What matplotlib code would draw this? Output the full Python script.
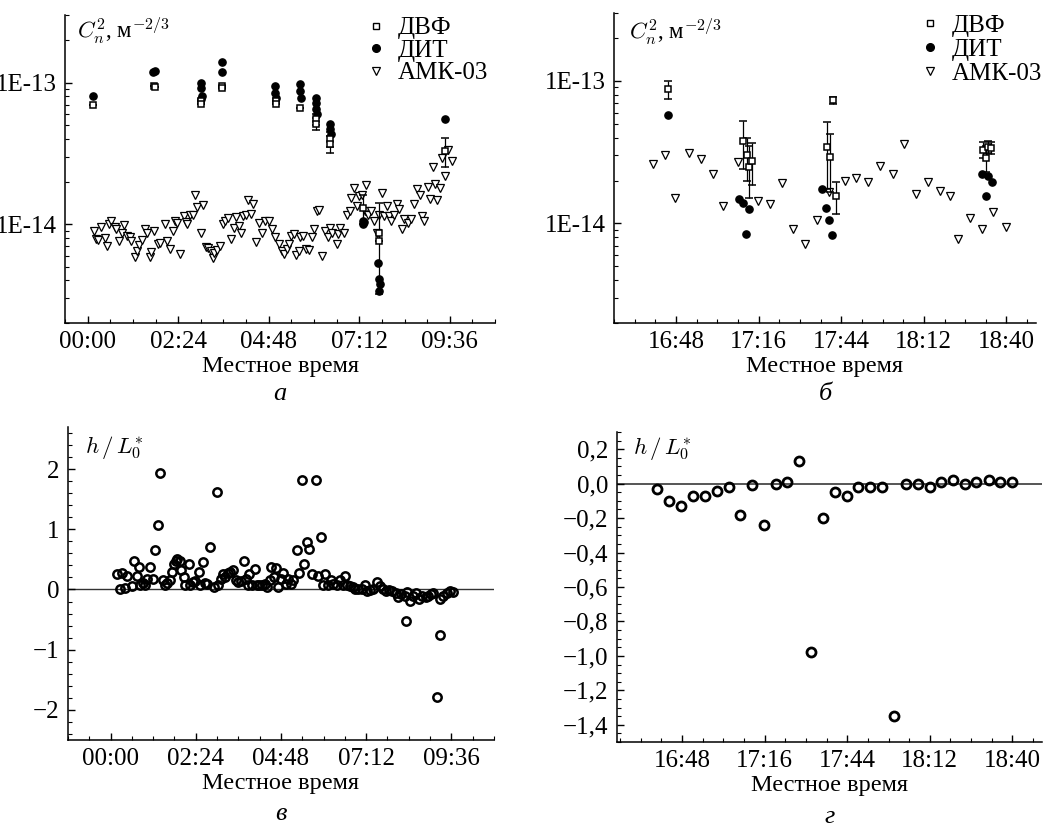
import numpy as np
import matplotlib
matplotlib.use("Agg")
from matplotlib import pyplot as plt
from matplotlib.lines import Line2D
from matplotlib.ticker import MultipleLocator, FuncFormatter, LogLocator, NullFormatter

plt.rcParams['font.family'] = 'serif'
plt.rcParams['font.serif'] = ['Liberation Serif', 'DejaVu Serif']
plt.rcParams['mathtext.fontset'] = 'cm'
plt.rcParams['font.size'] = 17.5
plt.rcParams['xtick.labelsize'] = 18
plt.rcParams['ytick.labelsize'] = 18

# ---------- panel a: night, time in hours ----------
amk_a_h = [0.16, 0.23, 0.27, 0.36, 0.45, 0.50, 0.57, 0.63, 0.72, 0.76,
           0.83, 0.90, 0.97, 1.03, 1.12, 1.16, 1.25, 1.31, 1.37, 1.43,
           1.52, 1.56, 1.65, 1.69, 1.76, 1.87, 1.91, 2.05, 2.11, 2.18,
           2.25, 2.31, 2.36, 2.45, 2.54, 2.61, 2.64, 2.71, 2.78, 2.85,
           2.91, 3.00, 3.05, 3.14, 3.20, 3.26, 3.32, 3.35, 3.42, 3.51,
           3.58, 3.64, 3.73, 3.79, 3.87, 3.94, 4.00, 4.06, 4.13, 4.20,
           4.26, 4.33, 4.38, 4.47, 4.53, 4.62, 4.71, 4.80, 4.88, 4.97,
           5.06, 5.15, 5.21, 5.28, 5.33, 5.39, 5.46, 5.53, 5.59, 5.64,
           5.71, 5.80, 5.86, 5.95, 5.99, 6.08, 6.13, 6.21, 6.30, 6.37,
           6.42, 6.48, 6.60, 6.63, 6.70, 6.79, 6.88, 6.95, 6.99, 7.06,
           7.15, 7.19, 7.28, 7.34, 7.39, 7.43, 7.50, 7.59, 7.66, 7.72,
           7.79, 7.85, 7.93, 7.99, 8.05, 8.12, 8.19, 8.25, 8.34, 8.39,
           8.48, 8.56, 8.65, 8.74, 8.81, 8.87, 8.92, 9.01, 9.08, 9.14,
           9.20, 9.27, 9.34, 9.39, 9.47, 9.55, 9.65]
amk_a_cn2 = np.array([0.90, 0.78, 0.77, 0.95, 0.80, 0.70, 1.00, 1.06, 0.95, 0.92,
                      0.76, 0.87, 0.98, 0.83, 0.81, 0.76, 0.59, 0.65, 0.71, 0.77,
                      0.92, 0.87, 0.59, 0.64, 0.90, 0.72, 0.74, 1.00, 0.76, 0.67,
                      0.90, 1.06, 1.02, 0.62, 1.14, 1.04, 1.00, 1.16, 1.16, 1.60,
                      1.32, 0.87, 1.36, 0.69, 0.68, 0.65, 0.58, 0.63, 0.66, 0.70,
                      1.00, 1.05, 1.10, 0.78, 0.94, 1.12, 0.97, 0.87, 1.14, 1.17,
                      1.47, 1.18, 1.38, 0.75, 1.02, 0.87, 1.06, 1.06, 0.92, 0.81,
                      0.72, 0.65, 0.62, 0.67, 0.72, 0.82, 0.85, 0.61, 0.65, 0.81,
                      0.82, 0.67, 0.66, 0.81, 0.92, 1.24, 1.25, 0.60, 0.89, 0.81,
                      0.94, 0.87, 0.72, 0.85, 0.94, 0.87, 1.17, 1.24, 1.54, 1.79,
                      1.34, 1.58, 1.62, 1.24, 1.89, 1.17, 1.24, 1.06, 0.87, 1.16,
                      1.67, 1.14, 1.34, 1.14, 1.06, 1.17, 1.39, 1.27, 0.92, 1.08,
                      1.02, 1.08, 1.38, 1.76, 1.62, 1.14, 1.05, 1.83, 1.50, 2.54,
                      1.91, 1.47, 1.81, 2.94, 2.19, 3.35, 2.80]) * 1e-14

dvf_a_h = [0.14, 1.76, 1.78, 3.00, 3.01, 3.56, 3.57, 4.98, 4.99, 5.64,
           6.04, 6.05, 6.41, 6.42, 7.31, 7.72, 7.73, 9.47]
dvf_a_cn2 = np.array([7.0, 9.5, 9.3, 7.45, 7.1, 9.5, 9.2, 7.45, 7.1, 6.65,
                      5.5, 5.1, 4.0, 3.7, 1.3, 0.86, 0.76, 3.3]) * 1e-14
dvf_a_err = np.array([0, 0, 0, 0, 0, 0, 0, 0, 0, 0,
                      0.5, 0.5, 0.5, 0.5, 0.3, 0.54, 0, 0.75]) * 1e-14

dit_a_h = [0.13, 1.74, 1.78, 3.00, 3.01, 3.03, 3.00, 3.56, 3.56, 4.97,
           4.97, 4.98, 5.64, 5.64, 5.65, 6.04, 6.04, 6.06, 6.07, 6.41,
           6.43, 6.45, 7.30, 7.31, 7.33, 7.70, 7.72, 7.74, 7.72, 9.47]
dit_a_cn2 = np.array([8.0, 12.0, 12.1, 10.0, 9.2, 8.1, 7.7, 14.1, 12.0, 9.5,
                      8.5, 7.8, 9.8, 8.8, 7.8, 7.8, 7.2, 6.5, 6.0, 5.1,
                      4.7, 4.35, 1.0, 1.05, 1.03, 0.53, 0.407, 0.375, 0.335, 5.55]) * 1e-14

# ---------- panel б: evening, minutes since midnight ----------
amk_b_t = [1000.3, 1004.2, 1007.7, 1012.4, 1016.4, 1020.4, 1023.8, 1028.9, 1035.7, 1039.7,
           1043.8, 1047.7, 1051.8, 1055.9, 1059.9, 1065.2, 1069.1, 1073.1, 1077.1, 1081.4,
           1085.3, 1089.4, 1093.4, 1097.6, 1101.0, 1103.6, 1107.6, 1111.6, 1115.6, 1119.8]
amk_b_cn2 = np.array([2.61, 3.03, 1.52, 3.14, 2.85, 2.22, 1.32, 2.71, 1.43, 1.37,
                      1.92, 0.91, 0.72, 1.06, 1.65, 2.00, 2.07, 1.96, 2.54, 2.22,
                      3.60, 1.62, 1.94, 1.69, 1.56, 0.78, 1.10, 0.91, 1.21, 0.95]) * 1e-14

dvf_b_t = [1005.4, 1030.6, 1032.2, 1032.6, 1033.8, 1059.2, 1060.1, 1061.2, 1062.3,
           1112.0, 1112.9, 1113.9, 1114.8]
dvf_b_cn2 = np.array([8.75, 3.8, 3.0, 2.5, 2.75, 3.45, 2.95, 7.3, 1.56,
                      3.3, 2.9, 3.45, 3.4]) * 1e-14
dvf_b_err = np.array([1.3, 1.4, 1.0, 1.0, 0.9, 1.7, 1.3, 0.45, 0.4,
                      0.4, 0.6, 0.35, 0.35]) * 1e-14

dit_b_t = [1005.4, 1029.4, 1030.6, 1032.9, 1031.9, 1057.6, 1058.7, 1059.9, 1060.9,
           1111.6, 1113.9, 1115.0, 1112.9]
dit_b_cn2 = np.array([5.75, 1.48, 1.40, 1.27, 0.85, 1.74, 1.28, 1.06, 0.83,
                      2.22, 2.16, 1.96, 1.56]) * 1e-14

# ---------- panel в: h/L0*, night ----------
hl_c_h = [0.17, 0.26, 0.33, 0.42, 0.47, 0.61, 0.66, 0.75, 0.80, 0.84,
          0.92, 0.98, 1.03, 1.12, 1.20, 1.26, 1.33, 1.40, 1.48, 1.52,
          1.59, 1.67, 1.73, 1.78, 1.83, 1.87, 1.95, 1.98, 2.06, 2.11,
          2.20, 2.25, 2.32, 2.39, 2.48, 2.53, 2.60, 2.67, 2.73, 2.81,
          2.90, 2.99, 3.04, 3.11, 3.16, 3.23, 3.30, 3.37, 3.46, 3.54,
          3.60, 3.67, 3.75, 3.82, 3.86, 3.91, 3.98, 4.07, 4.12, 4.19,
          4.26, 4.35, 4.40, 4.48, 4.51, 4.59, 4.66, 4.73, 4.79, 4.87,
          4.94, 5.01, 5.07, 5.15, 5.24, 5.32, 5.38, 5.45, 5.52, 5.60,
          5.66, 5.79, 5.85, 5.92, 5.97, 6.04, 6.13, 6.20, 6.27, 6.37,
          6.46, 6.54, 6.60, 6.67, 6.74, 6.82, 6.88, 6.97, 7.07, 7.16,
          7.23, 7.30, 7.40, 7.51, 7.58, 7.66, 7.75, 7.85, 7.94, 8.03,
          8.10, 8.19, 8.29, 8.35, 8.44, 8.52, 8.61, 8.69, 8.78, 8.88,
          8.94, 9.04, 9.08, 9.27, 9.36, 9.48, 9.55, 9.64, 8.31, 9.27, 9.20]
hl_c = [0.25, 0.01, 0.27, 0.03, 0.22, 0.06, 0.47, 0.22, 0.38, 0.08,
        0.11, 0.08, 0.18, 0.37, 0.18, 0.65, 1.07, 1.93, 0.15, 0.07,
        0.11, 0.16, 0.29, 0.42, 0.48, 0.51, 0.48, 0.32, 0.21, 0.07,
        0.43, 0.08, 0.12, 0.14, 0.29, 0.07, 0.46, 0.11, 0.09, 0.71,
        0.04, 1.62, 0.07, 0.18, 0.25, 0.21, 0.27, 0.29, 0.32, 0.15,
        0.12, 0.14, 0.48, 0.18, 0.07, 0.26, 0.07, 0.34, 0.08, 0.07,
        0.08, 0.09, 0.04, 0.15, 0.37, 0.21, 0.36, 0.04, 0.18, 0.28,
        0.09, 0.18, 0.09, 0.15, 0.65, 0.27, 1.82, 0.43, 0.79, 0.68,
        0.26, 1.82, 0.23, 0.88, 0.08, 0.26, 0.08, 0.15, 0.09, 0.07,
        0.15, 0.07, 0.22, 0.08, 0.05, 0.04, 0.01, 0.01, 0.01, 0.07,
        -0.02, -0.01, 0.01, 0.12, 0.05, 0.01, -0.02, -0.01, -0.03, -0.06,
        -0.13, -0.07, -0.10, -0.04, -0.19, -0.10, -0.06, -0.16, -0.10, -0.13,
        -0.10, -0.07, -0.06, -0.16, -0.10, -0.06, -0.02, -0.04, -0.52, -0.76, -1.78]

# ---------- panel г: h/L0*, evening ----------
hl_d_t = [999.6, 1003.7, 1007.8, 1011.8, 1015.8, 1019.8, 1023.8, 1027.7, 1031.9, 1035.9,
          1039.9, 1043.7, 1047.8, 1051.8, 1055.9, 1059.9, 1063.9, 1067.8, 1071.8, 1075.8,
          1079.9, 1083.9, 1087.9, 1091.9, 1095.9, 1099.9, 1103.8, 1107.8, 1112.0, 1115.9, 1119.9]
hl_d = [-0.03, -0.10, -0.13, -0.07, -0.07, -0.04, -0.02, -0.18, -0.01, -0.24,
        0.00, 0.01, 0.13, -0.98, -0.20, -0.05, -0.07, -0.02, -0.02, -0.02,
        -1.35, 0.00, 0.00, -0.02, 0.01, 0.02, 0.00, 0.01, 0.02, 0.01, 0.01]


def fmt_hours(v, pos):
    m = int(round(v * 60))
    return f"{m // 60:02d}:{m % 60:02d}"


def fmt_minutes(v, pos):
    m = int(round(v))
    return f"{m // 60:02d}:{m % 60:02d}"


def fmt_comma(v, pos):
    return f"{v:.1f}".replace('.', ',').replace('-', '\u2212')


def fmt_int(v, pos):
    return f"{int(round(v))}".replace('-', '\u2212')


def style_axes(ax):
    for s in ['top', 'right']:
        ax.spines[s].set_visible(False)
    for s in ['left', 'bottom']:
        ax.spines[s].set_linewidth(1.1)
    ax.tick_params(which='both', direction='in', top=False, right=False, pad=6)
    ax.tick_params(which='major', length=5, width=1)
    ax.tick_params(which='minor', length=3, width=0.8)


def log_axis(ax):
    ax.set_yscale('log')
    ax.set_ylim(2e-15, 3e-13)
    ax.yaxis.set_major_locator(LogLocator(base=10))
    ax.yaxis.set_minor_locator(LogLocator(base=10, subs=range(2, 10)))
    ax.yaxis.set_major_formatter(FuncFormatter(lambda v, p: f"1E{int(round(np.log10(v)))}"))
    ax.yaxis.set_minor_formatter(NullFormatter())


def cn2_panel(ax, amk_t, amk_v, dvf_t, dvf_v, dvf_e, dit_t, dit_v, ms_tri):
    ax.plot(amk_t, amk_v, 'v', ls='none', mfc='white', mec='black', ms=ms_tri, mew=0.9, zorder=2)
    ax.plot(dit_t, dit_v, 'o', ls='none', color='black', ms=5.2, zorder=3)
    ax.errorbar(dvf_t, dvf_v, yerr=dvf_e, fmt='s', mfc='white', mec='black', ms=4.3, mew=1.1,
                ecolor='black', elinewidth=0.9, capsize=3, capthick=0.9, zorder=4)


proxies = [Line2D([], [], marker='s', ls='none', mfc='white', mec='black', ms=5, mew=1),
           Line2D([], [], marker='o', ls='none', color='black', ms=5.5),
           Line2D([], [], marker='v', ls='none', mfc='white', mec='black', ms=6, mew=0.9)]
names = ['ДВФ', 'ДИТ', 'АМК-03']

fig = plt.figure(figsize=(10.49, 8.23), dpi=100)

# а
ax = fig.add_axes([0.062, 0.6075, 0.410, 0.374])
style_axes(ax)
cn2_panel(ax, amk_a_h, amk_a_cn2, dvf_a_h, dvf_a_cn2, dvf_a_err, dit_a_h, dit_a_cn2, 5.8)
log_axis(ax)
ax.set_xlim(-0.6, 10.8)
ax.xaxis.set_major_locator(MultipleLocator(2.4))
ax.xaxis.set_minor_locator(MultipleLocator(0.6))
ax.xaxis.set_major_formatter(FuncFormatter(fmt_hours))
ax.set_xlabel('Местное время', labelpad=2)
ax.text(0.028, 0.951, r"$C_n^2$, м$^{-2/3}$", transform=ax.transAxes, va='center', fontsize=16.5)
ax.legend(proxies, names, loc='upper left', bbox_to_anchor=(0.665, 1.035), frameon=False,
          fontsize=18, borderpad=0, handletextpad=0.35, labelspacing=0.0, handlelength=1.0)
ax.text(0.5, -0.23, 'а', transform=ax.transAxes, ha='center', va='center', style='italic', fontsize=19)

# б
ax = fig.add_axes([0.5853, 0.6075, 0.4023, 0.3767])
style_axes(ax)
cn2_panel(ax, amk_b_t, amk_b_cn2, dvf_b_t, dvf_b_cn2, dvf_b_err, dit_b_t, dit_b_cn2, 5.8)
log_axis(ax)
ax.set_xlim(987, 1130)
ax.xaxis.set_major_locator(MultipleLocator(28))
ax.xaxis.set_minor_locator(MultipleLocator(7))
ax.xaxis.set_major_formatter(FuncFormatter(fmt_minutes))
ax.set_xlabel('Местное время', labelpad=2)
ax.text(0.036, 0.94, r"$C_n^2$, м$^{-2/3}$", transform=ax.transAxes, va='center', fontsize=16.5)
ax.legend(proxies, names, loc='upper left', bbox_to_anchor=(0.69, 1.035), frameon=False,
          fontsize=18, borderpad=0, handletextpad=0.35, labelspacing=0.05, handlelength=1.0)
ax.text(0.5, -0.23, 'б', transform=ax.transAxes, ha='center', va='center', style='italic', fontsize=19)

# в
ax = fig.add_axes([0.0648, 0.1009, 0.4061, 0.3803])
style_axes(ax)
ax.axhline(0, color='#333333', lw=1.0, zorder=1)
ax.plot(hl_c_h, hl_c, 'o', ls='none', mfc='none', mec='black', ms=6.0, mew=1.8, zorder=3)
ax.set_xlim(-1.2, 10.8)
ax.set_ylim(-2.5, 2.7)
ax.xaxis.set_major_locator(MultipleLocator(2.4))
ax.xaxis.set_minor_locator(MultipleLocator(0.6))
ax.xaxis.set_major_formatter(FuncFormatter(fmt_hours))
ax.yaxis.set_major_locator(MultipleLocator(1))
ax.yaxis.set_minor_locator(MultipleLocator(0.2))
ax.yaxis.set_major_formatter(FuncFormatter(fmt_int))
ax.set_xlabel('Местное время', labelpad=2)
ax.text(0.04, 0.933, r"$h\,/\,L_0^{*}$", transform=ax.transAxes, va='center', fontsize=16.5)
ax.text(0.5, -0.235, 'в', transform=ax.transAxes, ha='center', va='center', style='italic', fontsize=19)

# г
ax = fig.add_axes([0.5882, 0.0984, 0.4051, 0.3767])
style_axes(ax)
ax.axhline(0, color='#555555', lw=1.4, zorder=1)
ax.plot(hl_d_t, hl_d, 'o', ls='none', mfc='none', mec='black', ms=6.5, mew=2.0, zorder=3)
ax.set_xlim(986, 1130)
ax.set_ylim(-1.5, 0.3)
ax.xaxis.set_major_locator(MultipleLocator(28))
ax.xaxis.set_minor_locator(MultipleLocator(7))
ax.xaxis.set_major_formatter(FuncFormatter(fmt_minutes))
ax.yaxis.set_major_locator(MultipleLocator(0.2))
ax.yaxis.set_minor_locator(MultipleLocator(0.05))
ax.yaxis.set_major_formatter(FuncFormatter(fmt_comma))
ax.set_xlabel('Местное время', labelpad=2)
ax.text(0.038, 0.948, r"$h\,/\,L_0^{*}$", transform=ax.transAxes, va='center', fontsize=16.5)
ax.text(0.5, -0.242, 'г', transform=ax.transAxes, ha='center', va='center', style='italic', fontsize=19)

fig.savefig('out.png', dpi=100)
